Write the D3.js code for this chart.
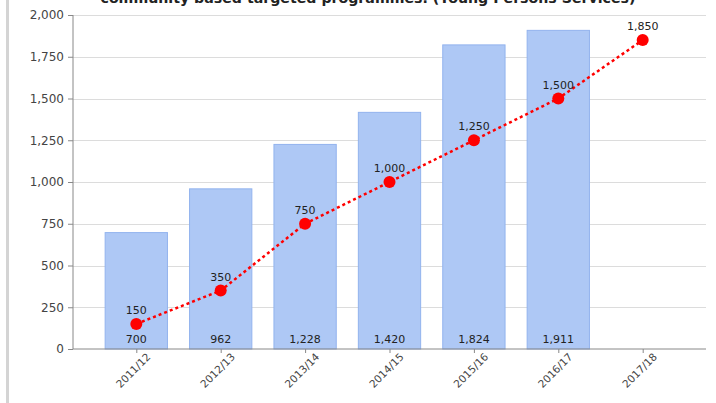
<!DOCTYPE html>
<html>
<head>
<meta charset="utf-8">
<script src="https://cdn.jsdelivr.net/npm/d3@7"></script>
<style>
  body { margin: 0; background: #fff; }
  svg { display: block; font-family: "DejaVu Sans", Verdana, sans-serif; }
</style>
</head>
<body>
<svg id="chart" width="716" height="403"></svg>
<script>
const years = ["2011/12", "2012/13", "2013/14", "2014/15", "2015/16", "2016/17", "2017/18"];
const actual = [700, 962, 1228, 1420, 1824, 1911, null];
const target = [150, 350, 750, 1000, 1250, 1500, 1850];
const yTicks = [0, 250, 500, 750, 1000, 1250, 1500, 1750, 2000];
const title = "community based targeted programmes. (Young Persons Services)";

const svg = d3.select("#chart");
const plotL = 73, plotR = 706, plotT = 15, plotB = 349;
const fmt = d3.format(",");

// left frame line
svg.append("rect").attr("x", 6).attr("y", 0).attr("width", 3).attr("height", 403).attr("fill", "#d4d4d4");

const x = d3.scalePoint().domain(years).range([plotL, plotR]).padding(0.75);
const y = d3.scaleLinear().domain([0, 2000]).range([plotB, plotT]);
const barW = x.step() * 0.75;

// grid
svg.append("g").selectAll("line").data(yTicks.slice(1)).join("line")
  .attr("x1", plotL).attr("x2", plotR)
  .attr("y1", d => Math.round(y(d)) + 0.5).attr("y2", d => Math.round(y(d)) + 0.5)
  .attr("stroke", "#dcdcdc");

// bars
const rows = years.map((yr, i) => ({ yr, a: actual[i], t: target[i] }));
svg.append("g").selectAll("rect").data(rows.filter(d => d.a != null)).join("rect")
  .attr("x", d => x(d.yr) - barW / 2 + 0.5)
  .attr("y", d => y(d.a) + 0.5)
  .attr("width", barW - 1)
  .attr("height", d => plotB - y(d.a) - 0.5)
  .attr("fill", "#aec8f5")
  .attr("stroke", "#92b3ee");

svg.append("g").selectAll("text").data(rows.filter(d => d.a != null)).join("text")
  .attr("x", d => x(d.yr)).attr("y", plotB - 6)
  .attr("text-anchor", "middle").attr("font-size", 11).attr("fill", "#222")
  .text(d => fmt(d.a));

// axes
const yAxis = svg.append("g").attr("transform", `translate(${plotL},0)`)
  .call(d3.axisLeft(y).tickValues(yTicks).tickFormat(fmt).tickSize(5).tickPadding(4));
const xAxis = svg.append("g").attr("transform", `translate(0,${plotB})`)
  .call(d3.axisBottom(x).tickSize(4).tickPadding(6));
[yAxis, xAxis].forEach(g => {
  g.select(".domain").attr("stroke", "#888");
  g.selectAll(".tick line").attr("stroke", "#888");
  g.selectAll("text").attr("fill", "#444").attr("font-size", 12).attr("font-family", "DejaVu Sans, Verdana, sans-serif");
});
xAxis.select(".domain").attr("d", `M${plotL},0H${plotR}`);
yAxis.select(".domain").attr("d", `M0,${plotB}V${plotT}`);
xAxis.selectAll("text")
  .attr("font-size", 10.5)
  .attr("text-anchor", "end")
  .attr("dx", "0.4em").attr("dy", "0.6em")
  .attr("transform", "rotate(-45)");

// target line
const line = d3.line().x(d => x(d.yr)).y(d => y(d.t));
svg.append("path").datum(rows).attr("d", line)
  .attr("fill", "none").attr("stroke", "#ff0000").attr("stroke-width", 2.5)
  .attr("stroke-dasharray", "3,3");
svg.append("g").selectAll("circle").data(rows).join("circle")
  .attr("cx", d => x(d.yr)).attr("cy", d => y(d.t)).attr("r", 6)
  .attr("fill", "#ff0000");
svg.append("g").selectAll("text").data(rows).join("text")
  .attr("x", d => x(d.yr)).attr("y", d => y(d.t) - 10)
  .attr("text-anchor", "middle").attr("font-size", 11).attr("fill", "#222")
  .text(d => fmt(d.t));

// title (clipped at top, as in the source image)
svg.append("text").attr("x", 368).attr("y", 3)
  .attr("text-anchor", "middle").attr("font-size", 13.5).attr("font-weight", "bold")
  .attr("textLength", 535).attr("lengthAdjust", "spacingAndGlyphs")
  .attr("fill", "#222").text(title);
</script>
</body>
</html>
